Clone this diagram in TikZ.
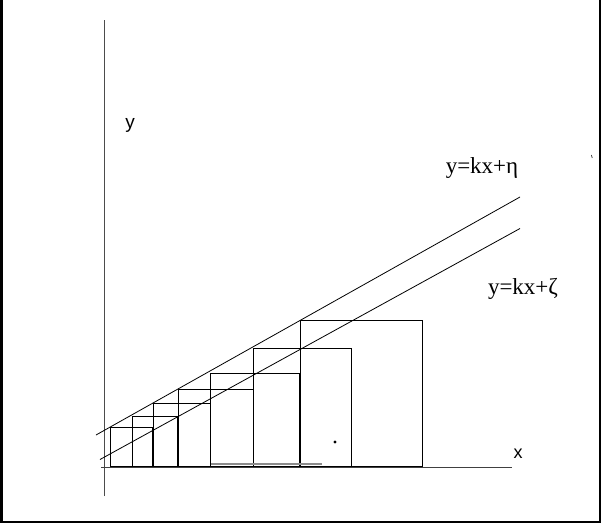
\documentclass[tikz,border=0pt]{standalone}
\usepackage{fontspec}
\setmainfont{Liberation Serif}
\setsansfont{Liberation Sans}
\usetikzlibrary{positioning}
\tikzset{thin line/.style = {line width = 0.8pt}, box/.style = {draw, line width = 0.9pt}}

\begin{document}
\begin{tikzpicture}[x=1pt, y=-1pt]
    \useasboundingbox (0,0) rectangle (602,527);
    \draw[line width = 2.6pt] (1.5,0) -- (1.5,522) -- (600,522) -- (600,0);
    \coordinate (o) at (104,467);
    \coordinate (xend) at (512,467);
    \coordinate (yend) at (104,20);
    \coordinate (ybot) at (104,496);
    \coordinate (xbeg) at (101,467);
    \draw[thin line, black!70] (ybot) -- (yend);
    \draw[thin line, black!75] (xbeg) -- (xend);
    \coordinate (e1) at (96,435);
    \coordinate (e2) at (520,197);
    \coordinate (z1) at (100,459.5);
    \coordinate (z2) at (520,228.5);
    \draw[thin line] (e1) -- (e2);
    \draw[thin line] (z1) -- (z2);
    \foreach \l/\r/\t in {110/152.3/427.7, 132.3/177.7/416.7, 153.3/210.7/403.3,
        178.3/253.3/389.3, 210.7/299.3/373.3, 253.3/351/348.3, 300.7/422.3/320} {
        \draw[box] (\l,466) rectangle (\r,\t);
    }
    \draw[black!45, line width = 1.6pt] (211,464) -- (322,464);
    \fill (335,442) circle (1.6pt); % dot
    \draw[line width = 0.6pt] (591.5,155) -- (592.2,158);
    \node[font=\sffamily\fontsize{19}{22}\selectfont] (ylab) at (130,125) {y};
    \node[font=\sffamily\fontsize{18}{20}\selectfont] (xlab) at (518,454) {x};
    \node[anchor=base, font=\fontsize{23}{26}\selectfont] (eta) at (482,173) {y=kx+η};
    \node[anchor=base, font=\fontsize{23}{26}\selectfont] (zeta) at (523,294) {y=kx+ζ};
\end{tikzpicture}
\end{document}
